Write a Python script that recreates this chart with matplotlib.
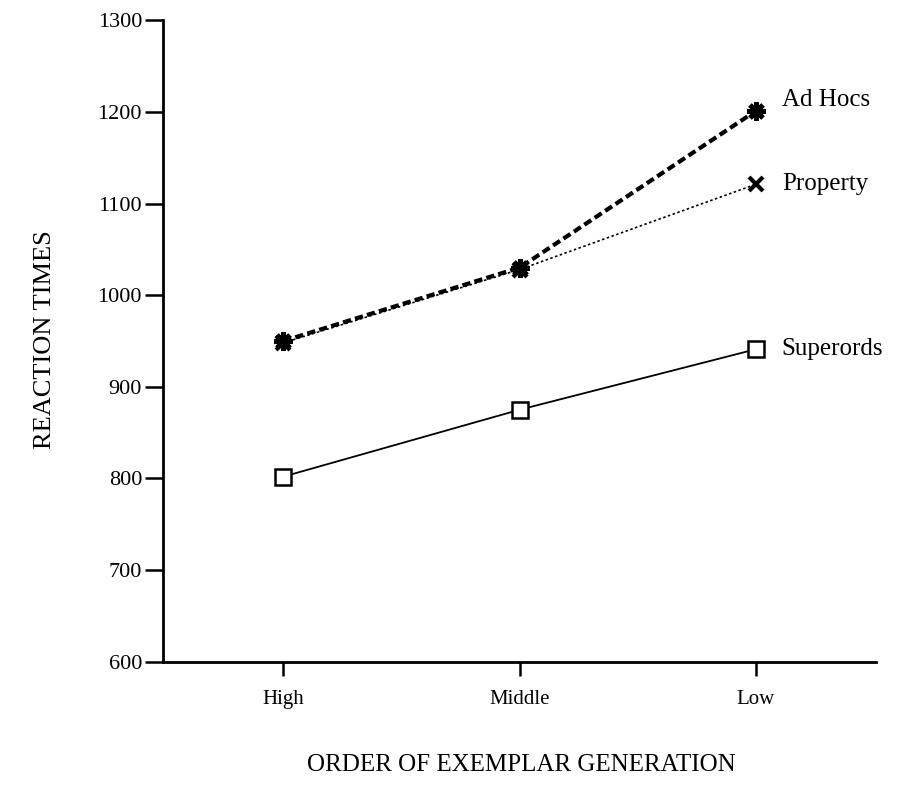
import matplotlib.pyplot as plt
import numpy as np

# DATA
orders = ["High", "Middle", "Low"]
ad_hocs = [950, 1030, 1201]
property_rt = [948, 1028, 1121]
superords = [802, 875, 941]
y_ticks = [600, 700, 800, 900, 1000, 1100, 1200, 1300]

plt.rcParams['font.family'] = ['Liberation Serif', 'DejaVu Serif']

fig = plt.figure(figsize=(9.10, 8.09), dpi=100)
ax = fig.add_axes([0.179, 0.182, 0.784, 0.793])
x = np.arange(len(orders))

## Lines
ax.plot(x, superords, color='black', lw=1.3, marker='s', ms=11,
        mfc='white', mec='black', mew=1.8, zorder=3)
ax.plot(x, property_rt, color='black', lw=1.2, ls=(0, (1.5, 1.5)),
        marker='x', ms=10, mew=3, zorder=4)
ax.plot(x, ad_hocs, color='black', lw=3, ls=(0, (2, 1)),
        marker=(8, 2, 0), ms=13, mew=3.5, zorder=5)

## Series labels at right end
for vals, name, dy in [(ad_hocs, "Ad Hocs", 12), (property_rt, "Property", 0), (superords, "Superords", 0)]:
    ax.text(x[-1] + 0.11, vals[-1] + dy, name, fontsize=18, va='center', ha='left')

## Axes styling
ax.set_xlim(-0.51, 2.51)
ax.set_ylim(600, 1300)
ax.set_xticks(x)
ax.set_xticklabels(orders, fontsize=15)
ax.set_yticks(y_ticks)
ax.set_yticklabels([str(v) for v in y_ticks], fontsize=16)
ax.tick_params(axis='y', direction='out', length=13, width=1.8, pad=2)
ax.tick_params(axis='x', direction='out', length=10, width=1.8, pad=10)
for side in ['top', 'right']:
    ax.spines[side].set_visible(False)
for side in ['left', 'bottom']:
    ax.spines[side].set_linewidth(2)

fig.text(0.05, 0.58, "REACTION TIMES", rotation=90, fontsize=19, ha='center', va='center')
fig.text(0.573, 0.054, "ORDER OF EXEMPLAR GENERATION", fontsize=18, ha='center', va='center')

fig.savefig("out.png", dpi=100, facecolor='white')
